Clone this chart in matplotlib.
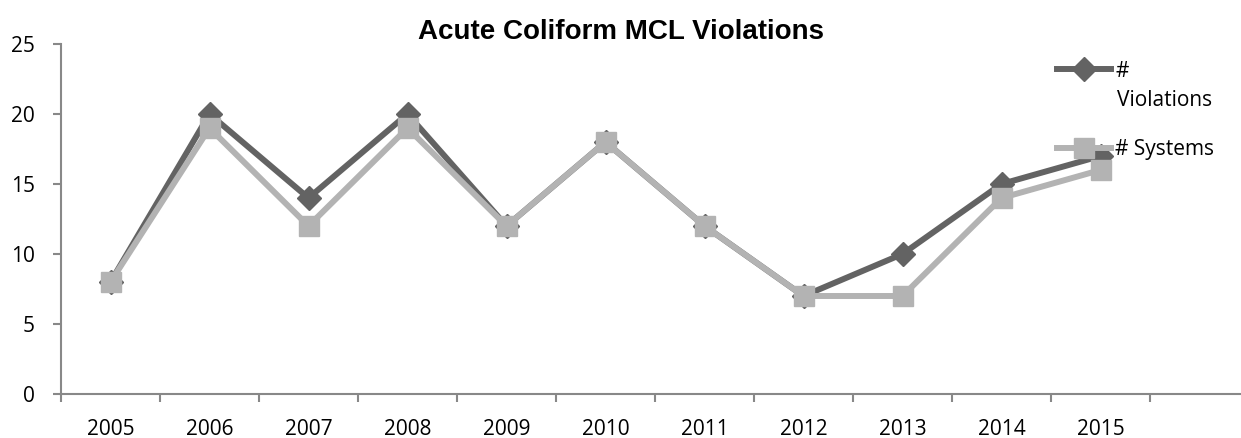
import matplotlib.pyplot as plt
import numpy as np

years = ['2005', '2006', '2007', '2008', '2009', '2010', '2011', '2012', '2013', '2014', '2015']
violations = [8, 20, 14, 20, 12, 18, 12, 7, 10, 15, 17]
systems = [8, 19, 12, 19, 12, 18, 12, 7, 7, 14, 16]

plt.rcParams['font.family'] = ['Open Sans', 'DejaVu Sans']

fig = plt.figure(figsize=(12.41, 4.38), dpi=100)
ax = fig.add_axes([61 / 1241, 44 / 438, 1188 / 1241, 350 / 438])

x = np.arange(len(years))
ax.plot(x, violations, color='#636363', lw=4.3, marker='D', ms=12,
        label='#', zorder=3)
ax.plot(x, systems, color='#b3b3b3', lw=4.3, marker='s', ms=14,
        label='# Systems', zorder=4)

ax.set_xlim(-0.5, 11.5)
ax.set_ylim(0, 25)
ax.set_yticks(range(0, 26, 5))
ax.set_xticks(np.arange(-0.5, 12, 1))
ax.set_xticklabels([])
ax.set_xticks(x, minor=True)
ax.set_xticklabels(years, minor=True)
ax.tick_params(axis='x', which='minor', length=0, pad=18, labelsize=15)
ax.tick_params(axis='x', which='major', length=6, width=1.5, color='#888888', direction='out')
ax.tick_params(axis='y', length=6, width=1.5, color='#888888', labelsize=15, pad=13)

for s in ['top', 'right']:
    ax.spines[s].set_visible(False)
for s in ['left', 'bottom']:
    ax.spines[s].set_color('#888888')
    ax.spines[s].set_linewidth(1.5)

fig.suptitle('Acute Coliform MCL Violations', x=621 / 1241, y=1 - 32 / 438,
             va='center', fontsize=20, fontweight='bold', family='Liberation Sans')

leg = ax.legend(loc='upper left', bbox_to_anchor=(1038 / 1241, 1 - 42 / 438),
                bbox_transform=fig.transFigure, frameon=False, fontsize=15,
                handlelength=2.6, handletextpad=0.2, labelspacing=2.75)
fig.text(1117 / 1241, 1 - 101 / 438, 'Violations', fontsize=15, va='center', ha='left')

fig.savefig('out.png', dpi=100)
